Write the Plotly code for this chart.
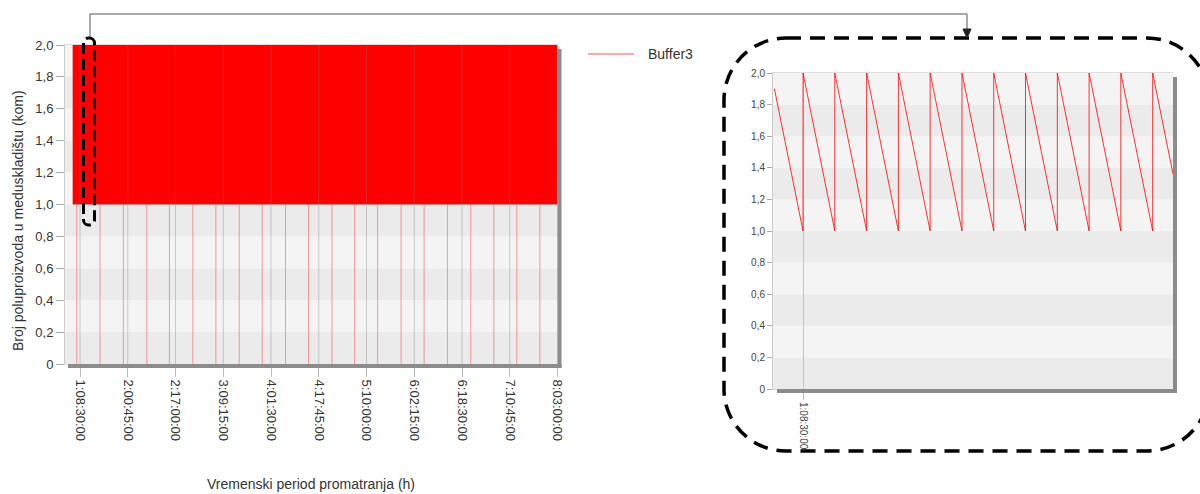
import plotly.graph_objects as go

W, H = 1200, 494
FONT = "Liberation Sans, Arial, sans-serif"

# ---- shared value axis -------------------------------------------------
y_tick_vals = [0, 0.2, 0.4, 0.6, 0.8, 1.0, 1.2, 1.4, 1.6, 1.8, 2.0]
y_tick_text = ["0", "0,2", "0,4", "0,6", "0,8", "1,0", "1,2", "1,4", "1,6", "1,8", "2,0"]

# ---- main chart: time in hours from day 0, labels as d:hh:mm:ss --------
x_tick_hours = [32.5, 48.75, 65.0, 81.25, 97.5, 113.75, 130.0, 146.25, 162.5, 178.75, 195.0]
x_tick_labels = ["1:08:30:00", "2:00:45:00", "2:17:00:00", "3:09:15:00", "4:01:30:00",
                 "4:17:45:00", "5:10:00:00", "6:02:15:00", "6:18:30:00", "7:10:45:00",
                 "8:03:00:00"]

# Buffer3 refill band over the whole run (cycle minimum / maximum)
buffer_start_h = 30.0
buffer_end_h = 195.0
buffer_low = 1.0
buffer_high = 2.0

# moments where Buffer3 is emptied down to zero
empty_hours = [31.38, 39.31, 47.25, 55.23, 62.93, 70.90, 78.74, 86.67, 94.51, 102.45,
               110.28, 118.26, 125.96, 133.79, 141.77, 149.60, 157.54, 165.48, 173.32,
               181.15, 189.00]

# ---- detail window: the first refill cycles -----------------------------
detail_tick_hours = [32.5]
detail_tick_labels = ["1:08:30:00"]
detail_hours = [32.2,
                32.5, 32.5, 32.833, 32.833, 33.167, 33.167, 33.5, 33.5,
                33.833, 33.833, 34.167, 34.167, 34.5, 34.5, 34.833, 34.833,
                35.167, 35.167, 35.5, 35.5, 35.833, 35.833, 36.167, 36.167,
                36.38]
detail_levels = [1.9,
                 1.0, 2.0, 1.0, 2.0, 1.0, 2.0, 1.0, 2.0,
                 1.0, 2.0, 1.0, 2.0, 1.0, 2.0, 1.0, 2.0,
                 1.0, 2.0, 1.0, 2.0, 1.0, 2.0, 1.0, 2.0,
                 1.36]


def px(x):
    return x / W


def py(y):
    return 1 - y / H


# plot rectangles in page pixels
M_L, M_R, M_T, M_B = 65, 557.5, 45, 364
D_L, D_R, D_T, D_B = 773, 1173, 73, 389

BAND_DARK = "#ebebeb"
BAND_LIGHT = "#f4f4f4"
SHADOW = "#8c8c8c"
LINE_RED = "rgba(255,0,0,0.38)"

fig = go.Figure()

# band of the refill cycle (solid at this scale)
fig.add_trace(go.Scatter(
    x=[buffer_start_h, buffer_end_h], y=[buffer_low, buffer_low],
    mode="lines", line=dict(width=0, color="red"), hoverinfo="skip",
    xaxis="x", yaxis="y", showlegend=False))
fig.add_trace(go.Scatter(
    x=[buffer_start_h, buffer_end_h], y=[buffer_high, buffer_high],
    mode="lines", line=dict(width=0, color="red"), fill="tonexty",
    fillcolor="#ff0000", xaxis="x", yaxis="y", name="Buffer3", showlegend=False))

# drops to zero
drop_x, drop_y = [], []
for t in empty_hours:
    drop_x += [t, t, None]
    drop_y += [0, buffer_low, None]
fig.add_trace(go.Scatter(
    x=drop_x, y=drop_y, mode="lines", line=dict(width=1, color=LINE_RED),
    xaxis="x", yaxis="y", showlegend=False, hoverinfo="skip"))

# detail sawtooth
fig.add_trace(go.Scatter(
    x=detail_hours, y=detail_levels, mode="lines",
    line=dict(width=1, color="rgba(255,0,0,0.8)"),
    xaxis="x2", yaxis="y2", showlegend=False))

shapes = []

# alternating horizontal bands
for xd, ya in (("x domain", "y"), ("x2 domain", "y2")):
    for i in range(len(y_tick_vals) - 1):
        shapes.append(dict(
            type="rect", xref=xd, yref=ya, x0=0, x1=1,
            y0=y_tick_vals[i], y1=y_tick_vals[i + 1],
            fillcolor=BAND_DARK if i % 2 == 0 else BAND_LIGHT,
            line=dict(width=0), layer="below"))

# vertical grid over the data in the main chart
for t in x_tick_hours:
    shapes.append(dict(
        type="line", xref="x", yref="y domain", x0=t, x1=t, y0=0, y1=1,
        line=dict(color="rgba(120,120,120,0.35)", width=1), layer="above"))

# drop shadows of the two plot frames
for x0, y0, x1, y1 in ((M_R, M_T + 4, M_R + 4, M_B + 4), (M_L + 3, M_B, M_R + 4, M_B + 4),
                       (D_R, D_T + 4, D_R + 4, D_B + 4), (D_L + 4, D_B, D_R + 4, D_B + 4)):
    shapes.append(dict(
        type="rect", xref="paper", yref="paper",
        x0=px(x0), x1=px(x1), y0=py(y1), y1=py(y0),
        fillcolor=SHADOW, line=dict(width=0), layer="above"))


def rounded_path(l, t, r, b, rad):
    k = 0.5523 * rad
    pts = [
        ("M", [(l + rad, t)]),
        ("L", [(r - rad, t)]),
        ("C", [(r - rad + k, t), (r, t + rad - k), (r, t + rad)]),
        ("L", [(r, b - rad)]),
        ("C", [(r, b - rad + k), (r - rad + k, b), (r - rad, b)]),
        ("L", [(l + rad, b)]),
        ("C", [(l + rad - k, b), (l, b - rad + k), (l, b - rad)]),
        ("L", [(l, t + rad)]),
        ("C", [(l, t + rad - k), (l + rad - k, t), (l + rad, t)]),
    ]
    out = []
    for cmd, coords in pts:
        out.append(cmd + " " + " ".join(f"{px(x):.5f},{py(y):.5f}" for x, y in coords))
    return " ".join(out) + " Z"


# dashed frame around the detail view
shapes.append(dict(
    type="path", xref="paper", yref="paper",
    path=rounded_path(724, 38, 1209, 451, 62),
    line=dict(color="black", width=3.5, dash="15px,9px"), layer="above"))

# dashed marker of the magnified span in the main chart
shapes.append(dict(
    type="path", xref="paper", yref="paper",
    path=rounded_path(83.5, 38, 94.5, 225, 5),
    line=dict(color="black", width=3, dash="11px,5px"), layer="above"))

# connector with arrow head
shapes.append(dict(
    type="path", xref="paper", yref="paper",
    path=f"M {px(90)},{py(37)} L {px(90)},{py(14)} L {px(967)},{py(14)} L {px(967)},{py(30)}",
    line=dict(color="#555555", width=1), layer="above"))
shapes.append(dict(
    type="path", xref="paper", yref="paper",
    path=f"M {px(963)},{py(29)} L {px(971)},{py(29)} L {px(967)},{py(38)} Z",
    fillcolor="#222222", line=dict(color="#222222", width=1), layer="above"))

# legend sample line
shapes.append(dict(
    type="line", xref="paper", yref="paper",
    x0=px(588), x1=px(634), y0=py(54), y1=py(54),
    line=dict(color="rgba(255,0,0,0.45)", width=1.5)))

annotations = [
    dict(text="Buffer3", xref="paper", yref="paper", x=px(646), y=py(54),
         xanchor="left", yanchor="middle", showarrow=False,
         font=dict(family=FONT, size=14, color="#333333")),
    dict(text="Broj poluproizvoda u meduskladištu (kom)", xref="paper", yref="paper",
         x=px(18), y=py(221), textangle=-90, xanchor="center", yanchor="middle",
         showarrow=False, font=dict(family=FONT, size=14, color="#333333")),
    dict(text="Vremenski period promatranja (h)", xref="paper", yref="paper",
         x=px(311), y=py(484), xanchor="center", yanchor="middle",
         showarrow=False, font=dict(family=FONT, size=14, color="#333333")),
]

common_y = dict(range=[0, 2], tickmode="array", tickvals=y_tick_vals, ticktext=y_tick_text,
                ticks="outside", tickcolor="#aaaaaa", showgrid=False, zeroline=False,
                showline=True, linecolor="#cccccc", linewidth=1)

fig.update_layout(
    width=W, height=H, autosize=False,
    margin=dict(l=0, r=0, t=0, b=0),
    paper_bgcolor="white", plot_bgcolor="rgba(0,0,0,0)",
    font=dict(family=FONT, color="#333333"),
    showlegend=False,
    xaxis=dict(domain=[px(M_L), px(M_R)], anchor="y",
               range=[27.39, 195.0], tickmode="array", tickvals=x_tick_hours,
               ticktext=x_tick_labels, tickangle=90, ticks="outside", ticklen=12,
               tickcolor="#bbbbbb", tickfont=dict(size=13, color="#333333"),
               showgrid=False, zeroline=False, showline=True, mirror=True,
               linecolor="#dddddd", automargin=False),
    yaxis=dict(domain=[py(M_B), py(M_T)], anchor="x", ticklen=8,
               tickfont=dict(size=13, color="#333333"), automargin=False, **common_y),
    yaxis3=dict(overlaying="y", anchor="x", range=[0, 2], tickmode="linear", tick0=0,
                dtick=0.05, ticks="inside", ticklen=8, tickcolor="#b4b4b4",
                showticklabels=False, showgrid=False, zeroline=False, showline=False),
    xaxis2=dict(domain=[px(D_L), px(D_R)], anchor="y2",
                range=[32.185, 36.38], tickmode="array", tickvals=detail_tick_hours,
                ticktext=detail_tick_labels, tickangle=90, ticks="outside", ticklen=10,
                tickcolor="#bbbbbb", tickfont=dict(size=10, color="#444444"),
                showgrid=True, gridcolor="#c4c4c4", zeroline=False, showline=True,
                mirror=True, linecolor="#dddddd", automargin=False),
    yaxis2=dict(domain=[py(D_B), py(D_T)], anchor="x2", ticklen=5,
                tickfont=dict(size=10, color="#444444"), automargin=False, **common_y),
    yaxis4=dict(overlaying="y2", anchor="x2", range=[0, 2], tickmode="linear", tick0=0,
                dtick=0.05, ticks="inside", ticklen=7, tickcolor="#b4b4b4",
                showticklabels=False, showgrid=False, zeroline=False, showline=False),
    shapes=shapes,
    annotations=annotations,
)

fig.write_html("out.html", post_script="document.body.style.margin='0';")
